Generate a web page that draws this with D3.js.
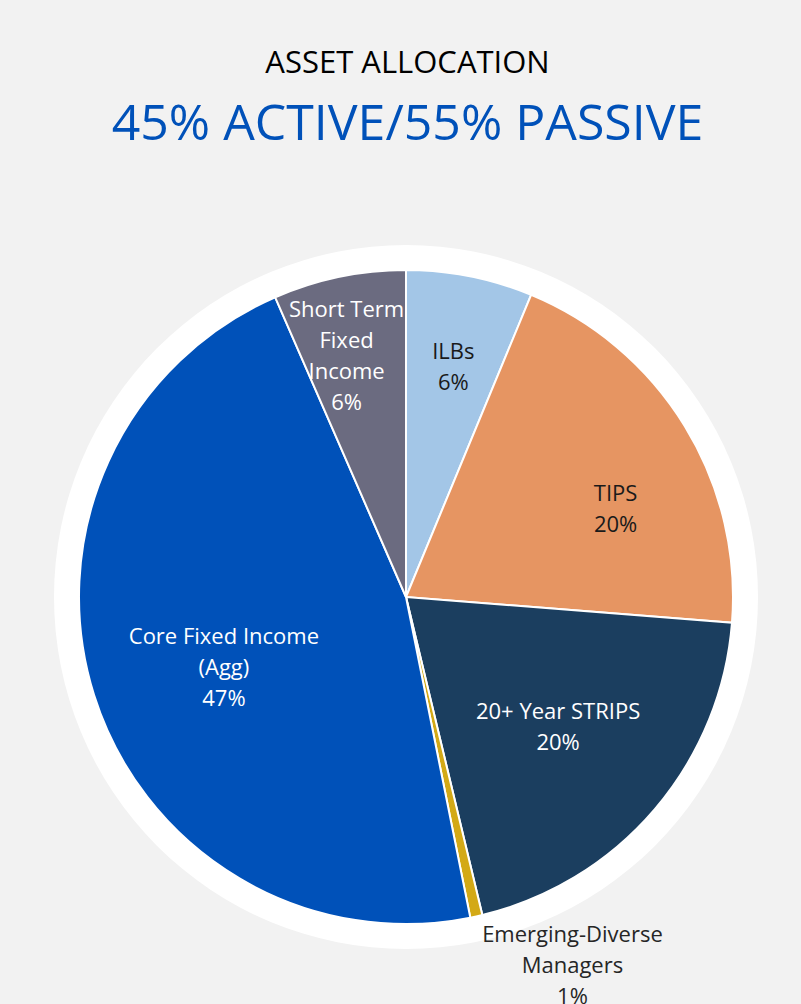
<!DOCTYPE html>
<html>
<head>
<meta charset="utf-8">
<script src="https://cdn.jsdelivr.net/npm/d3@7"></script>
<style>
  html, body { margin: 0; padding: 0; background: #f2f2f2; }
  svg { display: block; font-family: "Open Sans", "Noto Sans", sans-serif; }
</style>
</head>
<body>
<svg id="chart" width="801" height="1004"></svg>
<script>
// slices, clockwise from 12 o'clock
var categories = ["ILBs", "TIPS", "20+ Year STRIPS", "Emerging-Diverse Managers", "Core Fixed Income (Agg)", "Short Term Fixed Income"];
var labelLines = [["ILBs"], ["TIPS"], ["20+ Year STRIPS"], ["Emerging-Diverse", "Managers"], ["Core Fixed Income", "(Agg)"], ["Short Term", "Fixed", "Income"]];
var values = [6.25, 20, 20, 0.6, 46.6, 6.55];
var pctLabels = ["6%", "20%", "20%", "1%", "47%", "6%"];
var colors = ["#a3c6e7", "#e69562", "#1b3e5f", "#d3a916", "#0051b9", "#6b6b80"];
var textColors = ["#1a1a1a", "#1a1a1a", "#ffffff", "#262626", "#ffffff", "#ffffff"];

var svg = d3.select("#chart");
var W = 801, cx = 406, cy = 597, R = 327, ringR = 352;

svg.append("text").attr("x", W / 2 + 7).attr("y", 73)
  .attr("text-anchor", "middle").attr("font-size", 31).attr("fill", "#000")
  .text("ASSET ALLOCATION");
svg.append("text").attr("x", W / 2 + 7).attr("y", 140)
  .attr("text-anchor", "middle").attr("font-size", 50).attr("fill", "#0051b9")
  .text("45% ACTIVE/55% PASSIVE");

var g = svg.append("g").attr("transform", "translate(" + cx + "," + cy + ")");

g.append("circle").attr("r", ringR).attr("fill", "#ffffff");

var pie = d3.pie().sort(null).value(function (d) { return d; });
var arcs = pie(values);
var arc = d3.arc().innerRadius(0).outerRadius(R);
var labelArc = d3.arc().innerRadius(R * 0.68).outerRadius(R * 0.68);

g.selectAll("path.slice").data(arcs).enter()
  .append("path").attr("class", "slice")
  .attr("d", arc)
  .attr("fill", function (d, i) { return colors[i]; })
  .attr("stroke", "#ffffff").attr("stroke-width", 2);

// "best fit" label placement tweaks, like the spreadsheet does
var nudge = [[4, -12], [20, 28], [-17, -15], [5, -5], [30, 3], [-14, -24]];
var lineH = 31;
arcs.forEach(function (d, i) {
  var lines = labelLines[i].concat([pctLabels[i]]);
  var small = values[i] < 2;
  var pos;
  if (small) {
    var a = (d.startAngle + d.endAngle) / 2;
    pos = [Math.sin(a) * (ringR + 2), -Math.cos(a) * (ringR + 2)];
  } else {
    pos = labelArc.centroid(d);
  }
  pos = [pos[0] + nudge[i][0], pos[1] + nudge[i][1]];
  var t = g.append("text")
    .attr("font-size", 22)
    .attr("fill", textColors[i])
    .attr("text-anchor", "middle");
  var top = small ? pos[1] + 4 : pos[1] - (lines.length - 1) * lineH / 2 + 8;
  lines.forEach(function (ln, k) {
    t.append("tspan").attr("x", pos[0]).attr("y", top + k * lineH).text(ln);
  });
  if (small) {
    // label sits outside the ring, left edge at the slice
    var w = d3.max(t.selectAll("tspan").nodes(), function (n) { return n.getComputedTextLength(); });
    t.selectAll("tspan").attr("x", pos[0] + w / 2 - 5);
  }
});
</script>
</body>
</html>
